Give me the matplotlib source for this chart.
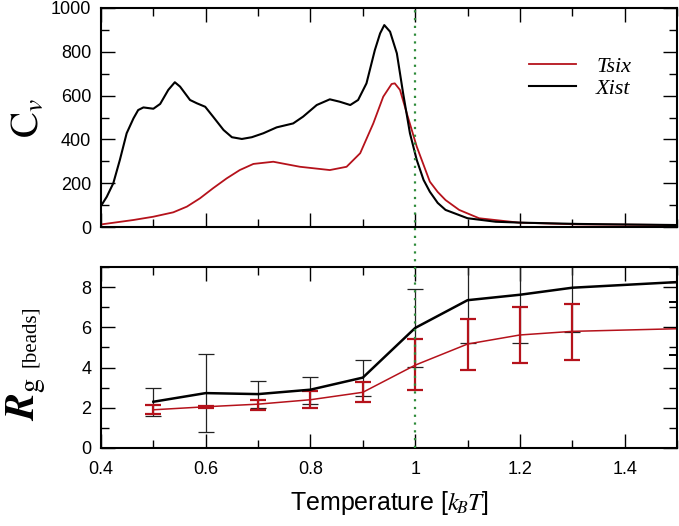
import matplotlib.pyplot as plt
from matplotlib.lines import Line2D
from matplotlib.ticker import MultipleLocator
import matplotlib.transforms as mtransforms

# heat capacity curves
xist_T = [0.401, 0.411, 0.4235, 0.436, 0.449, 0.462, 0.471, 0.481, 0.500, 0.513,
          0.5285, 0.541, 0.551, 0.570, 0.583, 0.599, 0.614, 0.634, 0.650, 0.669,
          0.688, 0.710, 0.7355, 0.767, 0.786, 0.812, 0.837, 0.856, 0.876, 0.891,
          0.907, 0.923, 0.933, 0.941, 0.952, 0.965, 0.977, 0.990, 1.003, 1.016,
          1.028, 1.043, 1.058, 1.100, 1.154, 1.200, 1.310, 1.500]
xist_cv = [100, 138, 200, 306, 428, 496, 534, 546, 540, 562,
           626, 661, 641, 580, 565, 549, 504, 443, 410, 402,
           410, 428, 455, 473, 504, 557, 583, 572, 557, 580,
           656, 808, 884, 922, 892, 793, 610, 428, 306, 215,
           161, 110, 78, 40, 24, 20, 14, 9]

tsix_T = [0.401, 0.462, 0.500, 0.538, 0.564, 0.589, 0.614, 0.640, 0.665, 0.691,
          0.729, 0.780, 0.837, 0.869, 0.895, 0.920, 0.939, 0.955, 0.961, 0.971,
          0.984, 1.003, 1.028, 1.043, 1.058, 1.084, 1.122, 1.198, 1.310, 1.500]
tsix_cv = [12, 32, 47, 67, 93, 131, 177, 222, 260, 288,
           298, 275, 260, 275, 337, 473, 595, 653, 656, 626,
           519, 367, 207, 160, 123, 78, 40, 20, 12, 9]

# radius of gyration with error bars
rg_T = [0.5, 0.6, 0.7, 0.8, 0.9, 1.0, 1.1, 1.2, 1.3, 1.5]
xist_rg = [2.30, 2.73, 2.68, 2.90, 3.50, 5.97, 7.35, 7.62, 7.97, 8.25]
xist_lo = [1.60, 0.80, 2.00, 2.20, 2.60, 4.05, 5.23, 5.23, 5.78, 8.25]
xist_hi = [3.00, 4.65, 3.33, 3.55, 4.37, 7.90, 9.50, 10.0, 10.2, 8.25]
tsix_rg = [1.90, 2.05, 2.18, 2.40, 2.77, 4.12, 5.17, 5.62, 5.80, 5.93]
tsix_lo = [1.70, 2.00, 1.87, 1.97, 2.27, 2.87, 3.87, 4.23, 4.40, 4.60]
tsix_hi = [2.13, 2.10, 2.40, 2.85, 3.30, 5.43, 6.43, 7.02, 7.18, 7.25]

red = '#b5121b'
green = '#2e8b3a'

plt.rcParams['font.family'] = ['Liberation Sans', 'DejaVu Sans']
plt.rcParams['mathtext.fontset'] = 'stix'

fig = plt.figure(figsize=(6.79, 5.26), dpi=100)
ax1 = fig.add_axes([101 / 679, 299 / 526, 576 / 679, 219 / 526])
ax2 = fig.add_axes([101 / 679, 78 / 526, 576 / 679, 181 / 526])

ax1.plot(tsix_T, tsix_cv, color=red, lw=1.3, label='Tsix')
ax1.plot(xist_T, xist_cv, color='black', lw=1.5, label='Xist')
ax1.set_xlim(0.4, 1.5)
ax1.set_ylim(0, 1000)
ax1.yaxis.set_major_locator(MultipleLocator(200))
ax1.yaxis.set_minor_locator(MultipleLocator(100))
ax1.text(-0.11, 0.50, r'$\mathrm{C}_{v}$', transform=ax1.transAxes, rotation=90,
         rotation_mode='anchor', fontsize=28, ha='center', va='baseline')
ax1.tick_params(labelbottom=False)
leg = ax1.legend(loc='upper right', bbox_to_anchor=(0.955, 0.87), frameon=False,
                 prop={'family': 'Liberation Serif', 'style': 'italic', 'size': 16},
                 handlelength=2.1, handletextpad=0.9, labelspacing=0.05)

xerr = [[c - l for c, l in zip(xist_rg, xist_lo)], [h - c for c, h in zip(xist_rg, xist_hi)]]
terr = [[c - l for c, l in zip(tsix_rg, tsix_lo)], [h - c for c, h in zip(tsix_rg, tsix_hi)]]
ax2.errorbar(rg_T, xist_rg, yerr=xerr, color='black', lw=1.8, elinewidth=0.9,
             capsize=6, capthick=0.9, ecolor='#222222')
ax2.errorbar(rg_T[:-1], tsix_rg[:-1], yerr=[terr[0][:-1], terr[1][:-1]], color=red,
             lw=1.1, elinewidth=1.6, capsize=6, capthick=1.6)
# last point sits on the right spine, its bar shows dark
ax2.plot(rg_T[-2:], tsix_rg[-2:], color=red, lw=1.1)
ax2.errorbar(rg_T[-1:], tsix_rg[-1:], yerr=[terr[0][-1:], terr[1][-1:]], fmt='none',
             ecolor='black', elinewidth=1.2, capsize=6, capthick=1.4)
ax2.set_xlim(0.4, 1.5)
ax2.set_ylim(0, 9)
ax2.yaxis.set_major_locator(MultipleLocator(2))
ax2.yaxis.set_minor_locator(MultipleLocator(1))

# y label of lower panel: big R_g plus smaller [beads]
ax2.text(-0.115, 0.27, r'$\boldsymbol{R}_{\mathrm{g}}$', transform=ax2.transAxes,
         rotation=90, rotation_mode='anchor', fontsize=29, ha='center', va='baseline')
ax2.text(-0.115, 0.615, '[beads]', transform=ax2.transAxes, rotation=90,
         rotation_mode='anchor', family='Liberation Serif', fontsize=15,
         ha='center', va='baseline')
ax2.set_xlabel(r'Temperature [$k_{\!B}T$]', fontsize=18, labelpad=8)

for ax in (ax1, ax2):
    ax.xaxis.set_major_locator(MultipleLocator(0.2))
    ax.xaxis.set_minor_locator(MultipleLocator(0.1))
    ax.tick_params(which='both', direction='in', top=True, right=True, labelsize=13)
    ax.tick_params(which='major', length=10, width=1)
    ax.tick_params(which='minor', length=6, width=1)
    ax.tick_params(axis='x', pad=9)
    ax.tick_params(axis='y', pad=7)
    for s in ax.spines.values():
        s.set_linewidth(1.5)
ax2.set_xticks([0.4, 0.6, 0.8, 1.0, 1.2, 1.4])
ax2.set_xticklabels(['0.4', '0.6', '0.8', '1', '1.2', '1.4'])

# dotted line at T = 1 through both panels
trans = mtransforms.blended_transform_factory(ax2.transData, fig.transFigure)
fig.add_artist(Line2D([1.0, 1.0], [78 / 526, 518 / 526], transform=trans,
                      color=green, lw=1.6, ls=(0, (1, 2.5))))

fig.savefig('out.png', dpi=100)
